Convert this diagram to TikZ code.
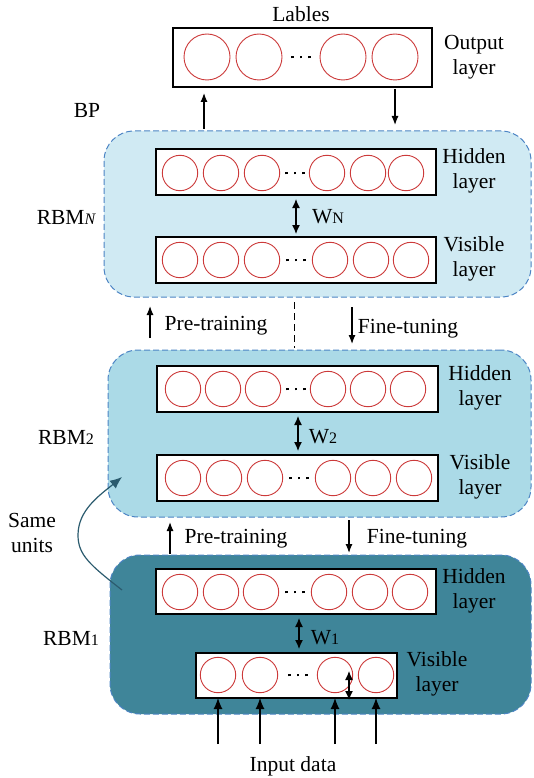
\documentclass[tikz,border=0pt]{standalone}
\usepackage{fontspec}
\setmainfont{Liberation Serif}
\usetikzlibrary{arrows.meta}
\definecolor{fillN}{HTML}{D0EAF3}
\definecolor{fillTwo}{HTML}{ABDAE7}
\definecolor{fillOne}{HTML}{3F8599}
\definecolor{dashblue}{HTML}{4C84C4}
\definecolor{unitred}{HTML}{CC3A3A}
\definecolor{curvecol}{HTML}{2B5B6E}
\newcommand{\smallsub}[1]{{\fontsize{16}{16}\selectfont #1}}
\newcommand{\threedots}{\rule{2.6pt}{2.6pt}\hspace{6pt}\rule{2.6pt}{2.6pt}\hspace{6pt}\rule{2.6pt}{2.6pt}}
\begin{document}
\begin{tikzpicture}[x=1pt,y=-1pt,
  every node/.style={font=\fontsize{21.5}{24.5}\selectfont, inner sep=0pt, outer sep=0pt},
  lbl/.style={align=center},
  dotsnode/.style={font=\fontsize{10}{10}\selectfont},
  rbmbox/.style={draw=dashblue, line width=1pt, dash pattern=on 6pt off 3pt, rounded corners=30pt},
  layerbox/.style={draw=black, line width=1.3pt, fill=white},
  unit/.style={circle, draw=unitred, line width=0.9pt, minimum size=35.4pt},
  bigunit/.style={circle, draw=unitred, line width=0.9pt, minimum size=46pt},
  arr/.style={line width=1.2pt, -{Latex[length=9pt,width=7pt]}},
  inarr/.style={line width=1.2pt, -{Latex[length=11pt,width=9pt]}},
  dbl/.style={line width=1.2pt, {Latex[length=9pt,width=8pt]}-{Latex[length=9pt,width=8pt]}},
]
\useasboundingbox (0,0) rectangle (533,778);

% RBM containers
\node[rbmbox, fill=fillN, minimum width=427pt, minimum height=166pt] (rbmN) at (317.5,214) {};
\node[rbmbox, fill=fillTwo, minimum width=423pt, minimum height=167pt] (rbmTwo) at (319.5,433.5) {};
\node[rbmbox, fill=fillOne, minimum width=421pt, minimum height=159pt] (rbmOne) at (320.5,634.5) {};

% Output layer
\node[layerbox, minimum width=259pt, minimum height=59pt] (out) at (302.5,57.5) {};
\foreach \x [count=\i] in {207,259,343,395} \node[bigunit] (o\i) at (\x,57) {};
\node[dotsnode] (od) at (301,57) {\threedots};
\node (lables) at (301,14) {Lables};
\node[lbl] (outlbl) at (474,57) {Output\\layer};
\node (bp) at (87,110) {BP};

% RBM N
\node[layerbox, minimum width=280pt, minimum height=46pt] (hN) at (296,172) {};
\foreach \x [count=\i] in {180,221,262,327,368,406} \node[unit] (hN\i) at (\x,173) {};
\node[dotsnode] (hNd) at (295,173) {\threedots};
\node[layerbox, minimum width=280pt, minimum height=46pt] (vN) at (296,260) {};
\foreach \x [count=\i] in {180,221,262,330,371,411} \node[unit] (vN\i) at (\x,260) {};
\node[dotsnode] (vNd) at (296,260) {\threedots};
\node[lbl] (hNl) at (474,171) {Hidden\\layer};
\node[lbl] (vNl) at (474,259) {Visible\\layer};
\node (rbmNl) at (66,217) {RBM\smallsub{\itshape N}};
\node (wNl) at (328,217) {W\smallsub{N}};
\coordinate (wNx) at (296,0);
\draw[dbl, shorten <=4pt, shorten >=3pt] (hN.south -| wNx) -- (vN.north -| wNx);

% RBM 2
\node[layerbox, minimum width=281pt, minimum height=46pt] (hTwo) at (297.5,389) {};
\foreach \x [count=\i] in {183,223,263,328,368,408} \node[unit] (hT\i) at (\x,389) {};
\node[dotsnode] (hTd) at (296,389) {\threedots};
\node[layerbox, minimum width=281pt, minimum height=46pt] (vTwo) at (297.5,478) {};
\foreach \x [count=\i] in {183,224,265,333,373,414} \node[unit] (vT\i) at (\x,478) {};
\node[dotsnode] (vTd) at (299,478) {\threedots};
\node[lbl] (hTl) at (480,388) {Hidden\\layer};
\node[lbl] (vTl) at (480,477) {Visible\\layer};
\node (rbmTl) at (66,437) {RBM\smallsub{2}};
\node (wTl) at (323,437) {W\smallsub{2}};
\coordinate (wTx) at (298,0);
\draw[dbl, shorten <=4pt, shorten >=4pt] (hTwo.south -| wTx) -- (vTwo.north -| wTx);

% RBM 1
\node[layerbox, minimum width=280pt, minimum height=45pt] (hOne) at (296,591.5) {};
\foreach \x [count=\i] in {180,221,261,329,370,410} \node[unit] (hO\i) at (\x,592) {};
\node[dotsnode] (hOd) at (295,592) {\threedots};
\node[layerbox, minimum width=201pt, minimum height=45pt] (vOne) at (296.5,675.5) {};
\foreach \x [count=\i] in {218,260,335,376} \node[unit] (vO\i) at (\x,675) {};
\node[dotsnode] (vOd) at (298,675) {\threedots};
\node[lbl] (hOl) at (474,591) {Hidden\\layer};
\node[lbl] (vOl) at (437,674) {Visible\\layer};
\node (rbmOl) at (71,638) {RBM\smallsub{1}};
\node (wOl) at (325,638) {W\smallsub{1}};
\coordinate (wOx) at (299,0);
\draw[dbl, shorten <=4pt, shorten >=4pt] (hOne.south -| wOx) -- (vOne.north -| wOx);
\coordinate (sa1) at (349,671);
\coordinate (sa2) at (349,700);
\draw[dbl] (sa1) -- (sa2);

% BP arrows
\coordinate (bpx1) at (204,0);
\coordinate (bpx2) at (395,0);
\draw[arr, shorten <=2pt, shorten >=6pt] (rbmN.north -| bpx1) -- (out.south -| bpx1);
\draw[arr, shorten <=2pt, shorten >=6pt] (out.south -| bpx2) -- (rbmN.north -| bpx2);

% Between N and 2
\coordinate (pt1a) at (150,338);
\coordinate (pt1b) at (150,306);
\draw[arr] (pt1a) -- (pt1b);
\node (pt1) at (216,326) {Pre-training};
\coordinate (ft1a) at (352,307);
\coordinate (ft1b) at (352,344);
\draw[arr] (ft1a) -- (ft1b);
\node (ft1) at (408,329) {Fine-tuning};
\coordinate (dashx) at (294,0);
\draw[line width=1pt, dash pattern=on 7pt off 4pt, shorten <=5pt, shorten >=2pt] (rbmN.south -| dashx) -- (rbmTwo.north -| dashx);

% Between 2 and 1
\coordinate (pt2a) at (170,554);
\coordinate (pt2b) at (170,522);
\draw[arr] (pt2a) -- (pt2b);
\node (pt2) at (236,539) {Pre-training};
\coordinate (ft2a) at (349,520);
\coordinate (ft2b) at (349,553);
\draw[arr] (ft2a) -- (ft2b);
\node (ft2) at (417,539) {Fine-tuning};

% Same units curve
\node[lbl] (same) at (32,533) {Same\\units};
\coordinate (cs) at (122,590);
\coordinate (cm) at (78,535);
\coordinate (ce) at (122,477);
\draw[curvecol, line width=1.2pt, -{Latex[length=12pt,width=10pt]}] (cs) .. controls (90,565) and (78,555) .. (cm) .. controls (78,510) and (100,495) .. (ce);

% Input data
\foreach \x [count=\i] in {218,260,335,376} {
  \coordinate (in\i) at (\x,744);
  \draw[inarr] (in\i) -- (in\i |- vOne.south);
}
\node (input) at (293,766) {Input data};
\end{tikzpicture}
\end{document}
